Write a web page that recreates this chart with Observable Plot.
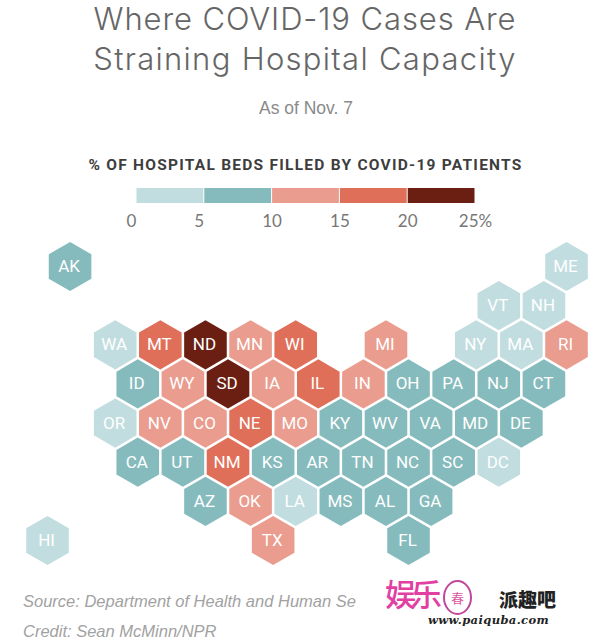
<!DOCTYPE html>
<html>
<head>
<meta charset="utf-8">
<script src="https://cdn.jsdelivr.net/npm/d3@7"></script>
<script src="https://cdn.jsdelivr.net/npm/@observablehq/plot@0.6"></script>
<style>
  html,body{margin:0;padding:0;background:#fff;}
  #page{position:relative;width:612px;height:643px;overflow:hidden;}
  #page>*{position:absolute;}
  .t{white-space:nowrap;}
  #title{left:0;width:610px;top:-1px;text-align:center;font:300 31px/39.5px Inter,sans-serif;letter-spacing:1.3px;color:#666;}
  #title span{letter-spacing:0.9px;}
  #sub{left:0;width:612px;top:97px;text-align:center;font:400 17.5px/22px "Liberation Sans",sans-serif;color:#8a8a8a;}
  #head{left:0;width:611px;top:155px;text-align:center;font:700 15.5px/20px Roboto,sans-serif;letter-spacing:1.25px;color:#3d3d3d;}
  .foot{left:23px;font:italic 16.5px/20px "Liberation Sans",sans-serif;color:#a2a2a2;}
  #source{top:591px;}
  #credit{top:621px;}
  #wm1{left:385px;top:574px;font:500 31px/38px "Noto Sans CJK SC",sans-serif;color:#e23fa3;letter-spacing:-5px;}
  #ring{left:443px;top:580px;width:25px;height:31px;border:2.5px solid #c2479b;border-radius:50%;text-align:center;font:400 13px/31px "Noto Sans CJK SC",sans-serif;color:#d9579f;}
  #wm2{left:499px;top:587px;font:900 19px/24px "Noto Sans CJK SC",sans-serif;color:#222;}
  #wm3{left:428px;top:613px;font:italic 700 11.5px/14px "DejaVu Serif",serif;letter-spacing:0.4px;color:#222;}
  svg{display:block;}
</style>
</head>
<body>
<div id="page">
  <div id="title" class="t"><span>Where COVID-19 Cases Are</span><br>Straining Hospital Capacity</div>
  <div id="sub" class="t">As of Nov. 7</div>
  <div id="head" class="t">% OF HOSPITAL BEDS FILLED BY COVID-19 PATIENTS</div>
  <div id="legend" style="left:0;top:180px"></div>
  <div id="map" style="left:0;top:236px"></div>
  <div id="source" class="foot t">Source: Department of Health and Human Se</div>
  <div id="credit" class="foot t">Credit: Sean McMinn/NPR</div>
  <div id="wm1" class="t">娱乐</div>
  <div id="ring">春</div>
  <div id="wm2" class="t">派趣吧</div>
  <div id="wm3" class="t">www.paiquba.com</div>
</div>
<script>
const states = ["AK","ME","VT","NH","WA","MT","ND","MN","WI","MI","NY","MA","RI",
  "ID","WY","SD","IA","IL","IN","OH","PA","NJ","CT",
  "OR","NV","CO","NE","MO","KY","WV","VA","MD","DE",
  "CA","UT","NM","KS","AR","TN","NC","SC","DC",
  "AZ","OK","LA","MS","AL","GA","HI","TX","FL"];
const columns = [0,22,19,21,2,4,6,8,10,14,18,20,22,
  3,5,7,9,11,13,15,17,19,21,
  2,4,6,8,10,12,14,16,18,20,
  3,5,7,9,11,13,15,17,19,
  6,8,10,12,14,16,-1,9,15];
const rows = [0,0,1,1,2,2,2,2,2,2,2,2,2,
  3,3,3,3,3,3,3,3,3,3,
  4,4,4,4,4,4,4,4,4,4,
  5,5,5,5,5,5,5,5,5,
  6,6,6,6,6,6,7,7,7];
// Estimated within the colour band each hexagon falls in
const shares = [8,3,2,3,3,17,22,13,17,13,3,4,12,
  7,13,22,14,17,14,8,7,7,7,
  3,12,13,16,13,8,7,7,7,7,
  7,8,16,9,8,8,7,7,4,
  8,13,4,7,8,7,3,12,7];

const breaks = [0,5,10,15,20,25];
const bandColors = ["#c1dde0","#86bbbd","#ea9c8e","#e06f5a","#6a1f12"];
const tickLabels = ["0","5","10","15","20","25%"];

const hexes = states.map((s,i)=>({state:s,col:columns[i],row:rows[i],share:shares[i]}));
const bands = bandColors.map((c,i)=>({lo:breaks[i],hi:breaks[i+1]}));
const ticks = breaks.map((b,i)=>({at:b,label:tickLabels[i]}));
const colorOpts = {type:"threshold",domain:breaks.slice(1,-1),range:bandColors};

document.getElementById("legend").append(Plot.plot({
  width:612,height:56,margin:0,
  x:{domain:[0,25],range:[136,475],axis:null},
  y:{domain:[0,1],range:[8,23],axis:null},
  color:colorOpts,
  marks:[
    Plot.rect(bands,{x1:"lo",x2:"hi",y1:0,y2:1,fill:"lo",insetRight:0.5,insetLeft:0.5}),
    Plot.text(ticks.slice(0,2),{x:"at",text:"label",frameAnchor:"bottom",dy:-10,dx:-5,fontSize:17,fill:"#777",fontFamily:"Lato, sans-serif"}),
    Plot.text(ticks.slice(2),{x:"at",text:"label",frameAnchor:"bottom",dy:-10,fontSize:17,fill:"#777",fontFamily:"Lato, sans-serif"})
  ]
}));

document.getElementById("map").append(Plot.plot({
  width:612,height:340,margin:0,
  x:{domain:[-1,22],range:[47,566],axis:null},
  y:{domain:[0,7],range:[30,304],axis:null},
  color:colorOpts,
  marks:[
    Plot.dot(hexes,{x:"col",y:"row",symbol:"hexagon",r:21.3,fill:d=>d.share,stroke:"none"}),
    Plot.text(hexes,{x:"col",y:"row",text:"state",dx:-1,fill:"white",fontSize:17,fontFamily:"Roboto, sans-serif",fontWeight:400})
  ]
}));
</script>
</body>
</html>
